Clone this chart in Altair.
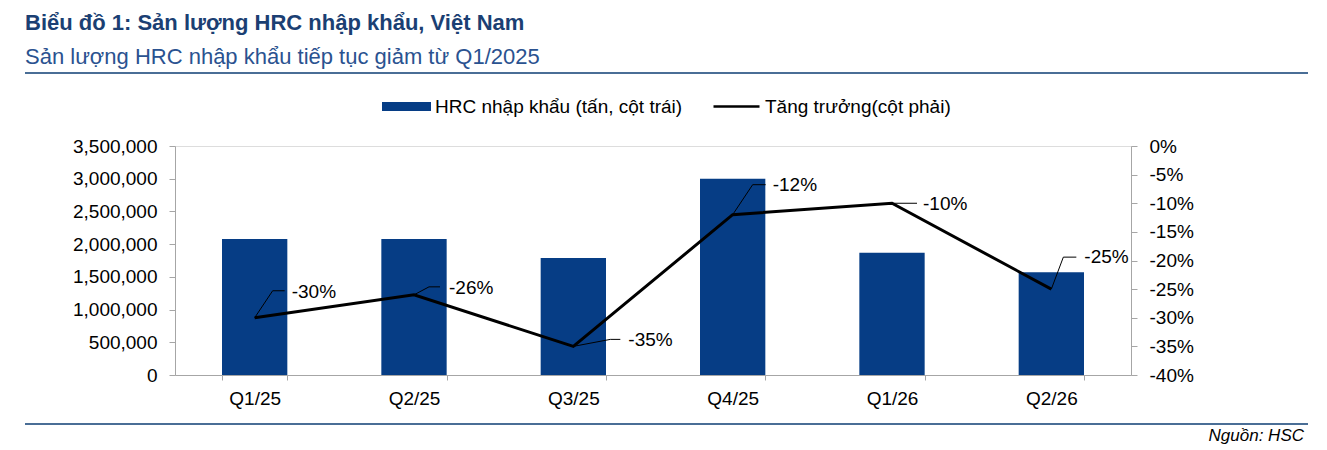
import altair as alt
import pandas as pd

# ---- data ----
quarters = ["Q1/25", "Q2/25", "Q3/25", "Q4/25", "Q1/26", "Q2/26"]
volume = [2080000, 2080000, 1790000, 3000000, 1870000, 1570000]
growth = [-30, -26, -35, -12, -10, -25]
growth_labels = ["-30%", "-26%", "-35%", "-12%", "-10%", "-25%"]

left_ticks = [0, 500000, 1000000, 1500000, 2000000, 2500000, 3000000, 3500000]
right_ticks = [-40, -35, -30, -25, -20, -15, -10, -5, 0]

bar_series = "HRC nhập khẩu (tấn, cột trái)"
line_series = "Tăng trưởng(cột phải)"
title_text = "Biểu đồ 1: Sản lượng HRC nhập khẩu, Việt Nam"
subtitle_text = "Sản lượng HRC nhập khẩu tiếp tục giảm từ Q1/2025"
source_text = ["Nguồn: HSC"]

# ---- annotation layout (pixel offsets of leader lines / labels from each point) ----
elbow_dx = [18, 15, 37, 20, 8, 12]
elbow_dy = [-27, -8, -7, -30, 0, -32]
end_dx = [30, 26, 47, 33, 25, 25]
text_dx = [37, 35, 55, 40, 31, 33]
text_dy = [-26, -7, -6, -30, 1, -32]

FONT = "Liberation Sans"
BAR_COLOR = "#063D85"
AXIS_GRAY = "#A6A6A6"
RULE_COLOR = "#4A6E96"
FS = 19

df = pd.DataFrame({
    "q": quarters,
    "volume": volume,
    "growth": growth,
    "label": growth_labels,
    "s1": [bar_series] * len(quarters),
    "s2": [line_series] * len(quarters),
})

W, H = 956, 229

x_enc = alt.X(
    "q:N", sort=quarters, bandPosition=0.5,
    scale=alt.Scale(paddingInner=0.59, paddingOuter=0.295),
    axis=alt.Axis(title=None, labelAngle=0, tickBand="extent", tickSize=5,
                  domainColor=AXIS_GRAY, tickColor=AXIS_GRAY, labelFontSize=FS,
                  labelPadding=9, labelColor="black", labelFont=FONT, grid=False),
)

y_left = alt.Y(
    "volume:Q",
    scale=alt.Scale(domain=[0, 3500000], nice=False, zero=True),
    axis=alt.Axis(orient="left", title=None, values=left_ticks, format=",.0f",
                  tickSize=6, labelPadding=12, domainColor=AXIS_GRAY, tickColor=AXIS_GRAY,
                  labelFontSize=FS, labelFont=FONT, labelColor="black", grid=False),
)

y_right = alt.Y(
    "growth:Q",
    scale=alt.Scale(domain=[-40, 0], nice=False, zero=False),
    axis=alt.Axis(orient="right", title=None, values=right_ticks,
                  labelExpr="datum.value + '%'",
                  tickSize=6, labelPadding=12, domainColor=AXIS_GRAY, tickColor=AXIS_GRAY,
                  labelFontSize=FS, labelFont=FONT, labelColor="black", grid=False),
)

base = alt.Chart(df)

bars = base.mark_bar().encode(
    x=x_enc,
    y=y_left,
    color=alt.Color(
        "s1:N",
        scale=alt.Scale(range=[BAR_COLOR]),
        legend=alt.Legend(
            orient="none", legendX=207, legendY=-64, title=None, padding=0,
            symbolType="M-1,-0.18H1V0.18H-1Z", symbolSize=2401, symbolStrokeWidth=0,
            labelFontSize=FS, labelFont=FONT, labelColor="black", labelOffset=4,
            labelLimit=0,
        ),
    ),
)

line = base.mark_line(strokeWidth=3).encode(
    x=x_enc,
    y=y_right,
    stroke=alt.Stroke(
        "s2:N",
        scale=alt.Scale(range=["black"]),
        legend=alt.Legend(
            orient="none", legendX=537, legendY=-64, title=None, padding=0,
            symbolType="stroke", symbolSize=2116, symbolStrokeWidth=2.5,
            labelFontSize=FS, labelFont=FONT, labelColor="black", labelOffset=4,
            labelLimit=0,
        ),
    ),
)

annot_layers = []
for i, q in enumerate(quarters):
    sub = base.transform_filter(alt.datum.q == q)
    diag = sub.mark_rule(color="black", strokeWidth=1,
                         x2Offset=elbow_dx[i], y2Offset=elbow_dy[i]).encode(
        x=x_enc, y=y_right,
        x2=alt.X2("q", bandPosition=0.5), y2=alt.Y2("growth"),
    )
    horiz = sub.mark_rule(color="black", strokeWidth=1,
                          xOffset=elbow_dx[i], yOffset=elbow_dy[i],
                          x2Offset=end_dx[i], y2Offset=elbow_dy[i]).encode(
        x=x_enc, y=y_right,
        x2=alt.X2("q", bandPosition=0.5), y2=alt.Y2("growth"),
    )
    txt = sub.mark_text(align="left", baseline="middle", fontSize=FS, font=FONT,
                        color="black", dx=text_dx[i], dy=text_dy[i]).encode(
        x=x_enc, y=y_right, text="label:N",
    )
    annot_layers += [diag, horiz, txt]

right_group = alt.layer(line, *annot_layers)

one = pd.DataFrame({"t": source_text})
top_rule = alt.Chart(one).mark_rule(color=RULE_COLOR, strokeWidth=2).encode(
    x=alt.value(-150), x2=alt.value(1133), y=alt.value(-73))
bottom_rule = alt.Chart(one).mark_rule(color=RULE_COLOR, strokeWidth=2).encode(
    x=alt.value(-150), x2=alt.value(1133), y=alt.value(278))
source = alt.Chart(one).mark_text(align="right", baseline="alphabetic", fontSize=17,
                                  fontStyle="italic", font=FONT, color="black").encode(
    x=alt.value(1129), y=alt.value(295), text="t:N")

chart = alt.layer(bars, right_group, top_rule, bottom_rule, source).resolve_scale(
    y="independent", color="independent", stroke="independent"
).properties(
    width=W, height=H,
    padding={"left": 167, "top": 138, "right": 188, "bottom": 75},
    autosize=alt.AutoSizeParams(type="none"),
    title=alt.TitleParams(
        text=title_text, subtitle=subtitle_text, anchor="start", frame="group",
        dx=-150, offset=3, font=FONT, fontSize=22, fontWeight="bold", color="#1B3F73",
        subtitleFont=FONT, subtitleFontSize=22, subtitleColor="#2A5290", subtitlePadding=12,
    ),
).configure_view(stroke=None).configure(font=FONT)

chart.save("out.html", embed_options={"renderer": "svg", "actions": False})
